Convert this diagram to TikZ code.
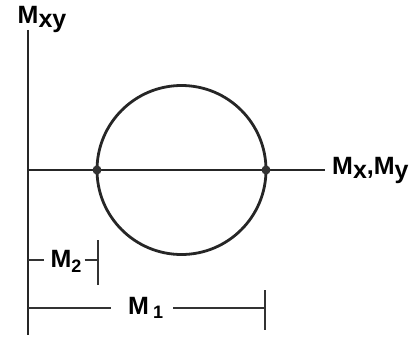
\documentclass[tikz,border=0pt]{standalone}
\usepackage{fontspec}
\setmainfont{Liberation Sans}
\newfontfamily\labfont{Liberation Sans Bold}
\begin{document}
\begin{tikzpicture}[x=1pt,y=-1pt,
  axis/.style={line width=2.2pt,black!85},
  dim/.style={line width=1.9pt,black!80},
  lbl/.style={font=\labfont\fontsize{25}{25}\selectfont,inner sep=0pt},
  dot/.style={circle,fill=black!80,inner sep=0pt,minimum size=9pt}]
\useasboundingbox (0,0) rectangle (411,337);
\coordinate (vtop) at (28,30);
\coordinate (vbot) at (28,335);
\coordinate (hl) at (28,170);
\coordinate (hr) at (325,170);
\draw[axis] (vtop) -- (vbot);
\draw[axis] (hl) -- (hr);
\node[lbl] (mxy) at (42,19) {M\raisebox{-4pt}{xy}};
\node[lbl,anchor=west] (mxmy) at (332,170) {M\raisebox{-4pt}{x},M\raisebox{-4pt}{y}};
\draw[line width=2.8pt,black!85] (181.5,170) circle (84.5);
\node[dot] (p1) at (97,170) {};
\node[dot] (p2) at (266,170) {};
% M2 dimension
\node[lbl] (m2) at (66,261) {M\raisebox{-5pt}{\fontsize{18}{18}\selectfont 2}};
\coordinate (m2l) at (28,260);
\coordinate (m2r) at (98,260);
\draw[dim] (m2l) -- ([xshift=-6pt]m2.west |- m2l);
\draw[dim] ([xshift=3pt]m2.east |- m2r) -- (m2r);
\draw[dim] (98,240) -- (98,285);
% M1 dimension
\node[lbl,anchor=west] (m1) at (128,308) {M\,\raisebox{-4pt}{\fontsize{18}{18}\selectfont 1}};
\coordinate (m1l) at (28,308);
\coordinate (m1r) at (265,308);
\draw[dim] (m1l) -- ([xshift=-17pt]m1.west |- m1l);
\draw[dim] ([xshift=10pt]m1.east |- m1r) -- (m1r);
\draw[dim] (265,290) -- (265,330);
\end{tikzpicture}
\end{document}
